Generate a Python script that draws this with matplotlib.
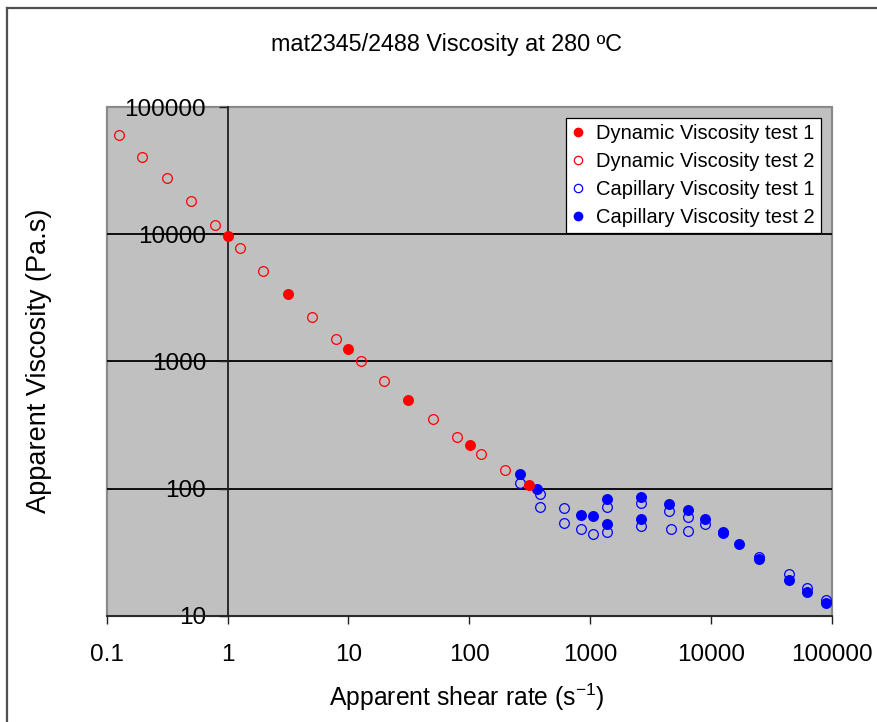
import matplotlib
matplotlib.use("Agg")
import matplotlib.pyplot as plt
from matplotlib.patches import Rectangle
from matplotlib.lines import Line2D

plt.rcParams['font.family'] = ['Liberation Sans', 'DejaVu Sans']
plt.rcParams['mathtext.fontset'] = 'custom'
plt.rcParams['mathtext.rm'] = 'Liberation Sans'
plt.rcParams['mathtext.it'] = 'Liberation Sans'

title = "mat2345/2488 Viscosity at 280 ºC"
xlabel = "Apparent shear rate (s$^{-1}$)"
ylabel = "Apparent Viscosity (Pa.s)"
xticks = [0.1, 1, 10, 100, 1000, 10000, 100000]
xtick_labels = ["0.1", "1", "10", "100", "1000", "10000", "100000"]
yticks = [10, 100, 1000, 10000, 100000]
ytick_labels = ["10", "100", "1000", "10000", "100000"]

# Dynamic Viscosity test 1 (filled red)
dyn1_x = [1.0, 3.17, 10, 30.9, 101, 311]
dyn1_y = [9700, 3360, 1255, 499, 221, 106]
# Dynamic Viscosity test 2 (open red)
dyn2_x = [0.126, 0.197, 0.313, 0.495, 0.78, 1.26, 1.95, 4.97, 7.85, 12.7, 19.7, 50.1, 79.1, 124, 199]
dyn2_y = [60100, 40600, 27600, 18100, 11900, 7730, 5130, 2240, 1506, 1000, 700, 350, 254, 188, 140]
# Capillary Viscosity test 1 (open blue)
cap1_x = [262, 381, 381, 606, 610, 838, 1045, 1374, 1374, 2606, 2655, 4470, 4670, 6450, 6450,
          8970, 12500, 24900, 44200, 62500, 89100]
cap1_y = [110, 91, 72, 70.6, 53.8, 48.0, 43.6, 71.9, 45.5, 77.3, 50.7, 66.9, 48.3, 59.4, 46.1,
          52.6, 44.4, 29.1, 21.1, 16.4, 13.3]
# Capillary Viscosity test 2 (filled blue)
cap2_x = [262, 365, 838, 1045, 1374, 1374, 2606, 2655, 4470, 6450, 8970, 12500, 17000, 24900,
          44200, 62500, 89100]
cap2_y = [131, 99, 61.5, 60.4, 82.3, 52.3, 85.7, 57.3, 76.0, 67.4, 57.9, 45.7, 36.8, 27.8,
          19.1, 15.3, 12.65]

W, H = 877, 722
fig = plt.figure(figsize=(W / 100, H / 100), dpi=100)
L, R, T, B = 106.7, 832, 107, 615.7
ax = fig.add_axes([L / W, 1 - B / H, (R - L) / W, (B - T) / H])
ax.set_facecolor('#C0C0C0')
ax.set_xscale('log')
ax.set_yscale('log')
ax.set_xlim(0.1, 100000)
ax.set_ylim(10, 100000)

for yv in [100, 1000, 10000]:
    ax.axhline(yv, color='black', lw=1.3, zorder=1)

for s in ['top', 'right']:
    ax.spines[s].set_visible(False)
ax.spines['left'].set_position(('data', 1))
ax.spines['left'].set_color('#202020')
ax.spines['left'].set_linewidth(1.3)
ax.spines['bottom'].set_color('#202020')
ax.spines['bottom'].set_linewidth(1.3)
ax.add_patch(Rectangle((0, 0), 1, 1, transform=ax.transAxes, fill=False,
                       edgecolor='#8A8A8A', lw=1.6, zorder=0.5, clip_on=False))

ax.set_xticks(xticks)
ax.set_xticklabels(xtick_labels)
ax.set_yticks(yticks)
ax.set_yticklabels(ytick_labels)
ax.minorticks_off()
ax.tick_params(axis='x', direction='out', length=6, width=1, color='#202020',
               labelsize=17.5, pad=14.5)
ax.tick_params(axis='y', direction='out', length=6.5, width=1, color='#202020',
               labelsize=17.5, pad=9)

ms = 7
ax.plot(dyn2_x, dyn2_y, 'o', ls='none', ms=ms, mfc='none', mec='#FF0000', mew=0.9,
        label='Dynamic Viscosity test 2', zorder=3)
ax.plot(cap1_x, cap1_y, 'o', ls='none', ms=ms, mfc='none', mec='#0000FF', mew=0.9,
        label='Capillary Viscosity test 1', zorder=3)
ax.plot(cap2_x, cap2_y, 'o', ls='none', ms=ms, mfc='#0000FF', mec='#0000FF', mew=0.9,
        label='Capillary Viscosity test 2', zorder=4)
ax.plot(dyn1_x, dyn1_y, 'o', ls='none', ms=ms, mfc='#FF0000', mec='#FF0000', mew=0.9,
        label='Dynamic Viscosity test 1', zorder=5)

handles = [
    Line2D([], [], marker='o', ls='none', ms=6, mfc='#FF0000', mec='#FF0000'),
    Line2D([], [], marker='o', ls='none', ms=6, mfc='none', mec='#FF0000', mew=0.9),
    Line2D([], [], marker='o', ls='none', ms=6, mfc='none', mec='#0000FF', mew=0.9),
    Line2D([], [], marker='o', ls='none', ms=6, mfc='#0000FF', mec='#0000FF'),
]
labels = ['Dynamic Viscosity test 1', 'Dynamic Viscosity test 2',
          'Capillary Viscosity test 1', 'Capillary Viscosity test 2']
leg = ax.legend(handles, labels, loc='upper right',
                bbox_to_anchor=((821 - L) / (R - L), 1 - (117.7 - T) / (B - T)),
                fontsize=14.5, frameon=True, fancybox=False, edgecolor='black',
                facecolor='white', framealpha=1, borderpad=0.3, labelspacing=0.45,
                handlelength=0.6, handletextpad=0.6, borderaxespad=0)
leg.get_frame().set_linewidth(0.9)

fig.text(447 / W, 1 - 45 / H, title, ha='center', va='center', fontsize=16.8)
fig.text(467 / W, 1 - 697 / H, xlabel, ha='center', va='center', fontsize=17.8)
fig.text(39 / W, 1 - 361 / H, ylabel, ha='center', va='center', rotation=90, fontsize=19.5)

# outer frame
fig.add_artist(Line2D([7 / W, 7 / W], [0, 1 - 8 / H], transform=fig.transFigure,
                      color='#505050', lw=1.6))
fig.add_artist(Line2D([7 / W, 1], [1 - 8 / H, 1 - 8 / H], transform=fig.transFigure,
                      color='#505050', lw=1.6))

fig.savefig('out.png', dpi=100)
